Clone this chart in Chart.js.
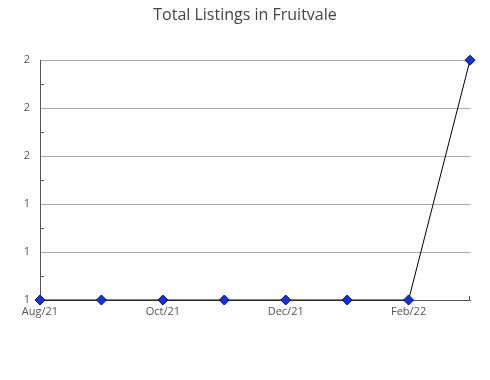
<!DOCTYPE html>
<html>
<head>
<meta charset="utf-8">
<script src="https://cdn.jsdelivr.net/npm/chart.js@4"></script>
<style>
  html, body { margin: 0; padding: 0; background: #fff; }
  #wrap { width: 490px; height: 380px; }
</style>
</head>
<body>
<div id="wrap"><canvas id="listingsChart"></canvas></div>
<script>
// Datos
const meses = ["Aug/21", "Sep/21", "Oct/21", "Nov/21", "Dec/21", "Jan/22", "Feb/22", "Mar/22"];
const totalListings = [1, 1, 1, 1, 1, 1, 1, 2];
const yTicks = [1, 1.2, 1.4, 1.6, 1.8, 2];

// Rayitas menores en el eje Y (entre cada línea de la grilla)
const minorTicks = {
  id: 'minorTicks',
  beforeDatasetsDraw(chart) {
    const y = chart.scales.y;
    const ctx = chart.ctx;
    ctx.save();
    ctx.strokeStyle = '#555';
    ctx.lineWidth = 1;
    for (let i = 0; i < yTicks.length - 1; i++) {
      const py = Math.round(y.getPixelForValue((yTicks[i] + yTicks[i + 1]) / 2)) + 0.5;
      ctx.beginPath();
      ctx.moveTo(y.right, py);
      ctx.lineTo(y.right + 4, py);
      ctx.stroke();
    }
    // rayita final del eje X
    const x = chart.scales.x;
    const px = Math.round(x.right) - 0.5;
    ctx.beginPath();
    ctx.moveTo(px, x.top);
    ctx.lineTo(px, x.top - 4);
    ctx.stroke();
    ctx.restore();
  }
};

new Chart(document.getElementById('listingsChart'), {
  type: 'line',
  data: {
    labels: meses,
    datasets: [{
      data: totalListings,
      clip: false,
      borderColor: '#000',
      borderWidth: 1,
      tension: 0,
      pointStyle: 'rectRot',
      pointRadius: 5,
      pointBackgroundColor: '#1030f0',
      pointBorderColor: '#001060',
      pointBorderWidth: 1
    }]
  },
  options: {
    responsive: true,
    maintainAspectRatio: false,
    animation: false,
    layout: { padding: { left: 20, right: 20, top: 0, bottom: 0 } },
    plugins: {
      legend: { display: false },
      tooltip: { enabled: false },
      title: {
        display: true,
        text: 'Total Listings in Fruitvale',
        color: '#444',
        font: { family: 'Open Sans', size: 16, weight: 'normal' },
        padding: { top: 6, bottom: 35 }
      }
    },
    scales: {
      x: {
        offset: false,
        grid: { display: false, drawTicks: false },
        border: { display: true, color: '#555' },
        afterFit(scale) { scale.height = 80; },
        ticks: {
          autoSkip: false,
          maxRotation: 0,
          padding: 5,
          color: '#555',
          font: { family: 'Open Sans', size: 11 },
          callback: function(value, index) { return index % 2 === 0 ? meses[index] : ''; }
        }
      },
      y: {
        min: 1,
        max: 2,
        afterFit(scale) { scale.width = 20; },
        afterBuildTicks(scale) { scale.ticks = yTicks.map(v => ({ value: v })); },
        grid: { color: '#aaa', drawTicks: false },
        border: { display: true, color: '#555' },
        ticks: {
          padding: 10,
          color: '#555',
          font: { family: 'Open Sans', size: 11 },
          callback: function(value) { return Math.round(value); }
        }
      }
    }
  },
  plugins: [minorTicks]
});
</script>
</body>
</html>
